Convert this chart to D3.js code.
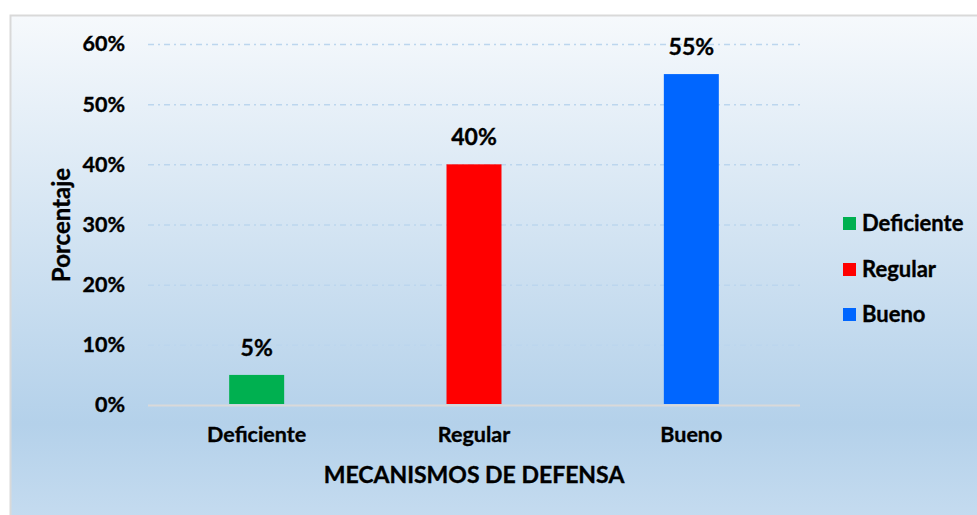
<!DOCTYPE html>
<html>
<head>
<meta charset="utf-8">
<script src="https://cdn.jsdelivr.net/npm/d3@7"></script>
<style>
  body { margin: 0; background: #fff; }
  text { font-family: Lato, "Open Sans", sans-serif; font-weight: bold; fill: #000; stroke: #000; stroke-width: 0.35; }
</style>
</head>
<body>
<div id="container"></div>
<script>
const categories = ["Deficiente", "Regular", "Bueno"];
const values = [5, 40, 55];
const colors = ["#00b050", "#ff0000", "#0066ff"];
const yTicks = [0, 10, 20, 30, 40, 50, 60];

const width = 977, height = 515;
const plot = { left: 148, right: 800, top: 44, bottom: 405 };

const svg = d3.select("#container").append("svg")
  .attr("width", width).attr("height", height);

// background gradient
const defs = svg.append("defs");
const grad = defs.append("linearGradient").attr("id", "bg")
  .attr("x1", 0).attr("y1", 0).attr("x2", 0).attr("y2", 1);
grad.append("stop").attr("offset", "0%").attr("stop-color", "#f6f9fc");
grad.append("stop").attr("offset", "80%").attr("stop-color", "#b4d1ea");
grad.append("stop").attr("offset", "100%").attr("stop-color", "#c6dcf0");

svg.append("rect")
  .attr("x", 10.5).attr("y", 15.5)
  .attr("width", 980).attr("height", 510)
  .attr("fill", "url(#bg)")
  .attr("stroke", "#d9d9d9").attr("stroke-width", 2);

const x = d3.scaleBand()
  .domain(categories)
  .range([plot.left, plot.right])
  .paddingInner(0.747).paddingOuter(0.3735);

const y = d3.scaleLinear()
  .domain([0, 60])
  .range([plot.bottom, plot.top]);

// gridlines + tick labels
const yAxis = d3.axisLeft(y)
  .tickValues(yTicks)
  .tickSize(-(plot.right - plot.left))
  .tickPadding(23)
  .tickFormat(d => d + "%");

const gy = svg.append("g")
  .attr("transform", "translate(" + plot.left + ",0)")
  .call(yAxis);
gy.select(".domain").remove();
gy.selectAll(".tick line")
  .attr("stroke-dasharray", d => d === 0 ? null : "6,4,2,4")
  .attr("stroke", d => d === 0 ? "#d9d9d9" : "#bcd6ee")
  .attr("stroke-width", d => d === 0 ? 2 : 1.5);
gy.selectAll(".tick text")
  .attr("font-size", 21.5)
  .attr("fill", "#000");

// bars
svg.selectAll("rect.bar")
  .data(values)
  .enter()
  .append("rect")
  .attr("class", "bar")
  .attr("x", (d, i) => x(categories[i]))
  .attr("y", d => y(d))
  .attr("width", x.bandwidth())
  .attr("height", d => y(0) - y(d) - 1)
  .attr("fill", (d, i) => colors[i]);

// value labels
svg.selectAll("text.val")
  .data(values)
  .enter()
  .append("text")
  .attr("class", "val")
  .attr("x", (d, i) => x(categories[i]) + x.bandwidth() / 2)
  .attr("y", d => y(d) - 19)
  .attr("text-anchor", "middle")
  .attr("font-size", 23)
  .text(d => d + "%");

// x axis labels
const xAxis = d3.axisBottom(x).tickSize(0).tickPadding(22);
const gx = svg.append("g")
  .attr("transform", "translate(0," + plot.bottom + ")")
  .call(xAxis);
gx.select(".domain").remove();
gx.selectAll(".tick text")
  .attr("font-size", 21.5)
  .attr("fill", "#000");

// axis titles
svg.append("text")
  .attr("x", 474).attr("y", 483)
  .attr("text-anchor", "middle")
  .attr("font-size", 23)
  .text("MECANISMOS DE DEFENSA");

svg.append("text")
  .attr("transform", "translate(70,225) rotate(-90)")
  .attr("text-anchor", "middle")
  .attr("font-size", 24)
  .text("Porcentaje");

// legend
const legend = svg.append("g").attr("transform", "translate(843,0)");
const legY = [223, 269, 314];
categories.forEach((c, i) => {
  legend.append("rect")
    .attr("x", 0).attr("y", legY[i] - 6)
    .attr("width", 13).attr("height", 13)
    .attr("fill", colors[i]);
  legend.append("text")
    .attr("x", 19).attr("y", legY[i] + 8)
    .attr("font-size", 22)
    .text(c);
});
</script>
</body>
</html>
